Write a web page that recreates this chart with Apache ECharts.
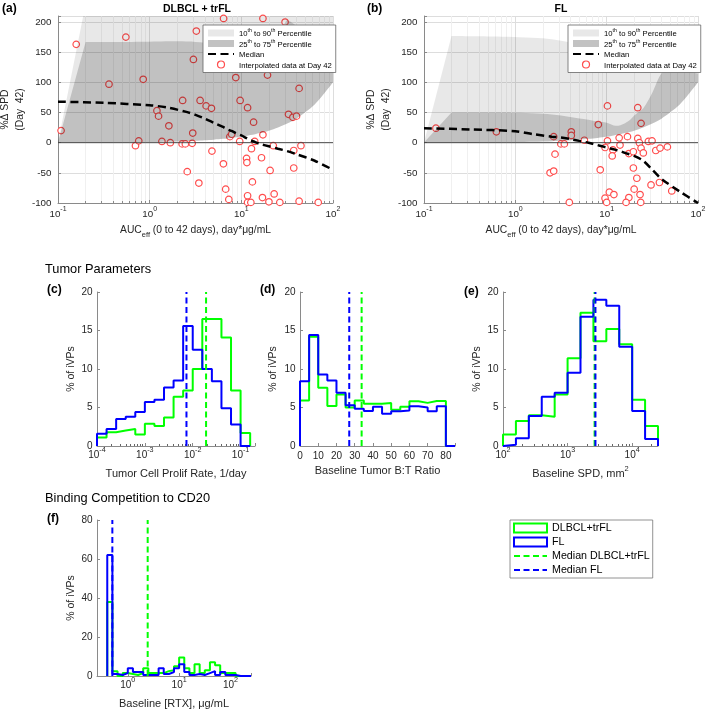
<!DOCTYPE html>
<html><head><meta charset="utf-8">
<script src="https://cdn.jsdelivr.net/npm/echarts@6/dist/echarts.min.js"></script>
<style>html,body{margin:0;padding:0;background:#fff}#c{width:709px;height:712px}</style>
</head><body><div id="c"></div>
<script>
// ---------------- DATA ----------------
const AUC_MIN = 0.1, AUC_MAX = 100;
// AUC sample points for percentile curves
const aucGrid = [0.1, 0.3162, 1, 1.585, 2.512, 3.162, 3.981, 5.012, 6.310, 7.079, 7.943, 8.913, 10, 11.22, 12.59, 14.13, 15.85, 19.95, 25.12, 31.62, 39.81, 63.10, 100];
// DLBCL + trFL percentiles of %ΔSPD
const dlbclP90 = [240,240,240,240,240,240,240,240,240,240,240,240,240,238,234,228,221,207,196,187,178,163,152];
const dlbclP75 = [183,183,181,177,170,165,155,143,130,124,117,109,100,89,77,69,63,54,48,44,40,33,27];
const dlbclP50 = [68,66,62,58,51,46,40,33,26,22,19,15,12,8,4,1,-2,-6,-10,-14,-19,-30,-45];
const dlbclP25 = [16,16,13,10,6,3,-1,-5,-10,-14,-19,-28,-45,-70,-95,-120,-140,-140,-140,-140,-140,-140,-140];
const dlbclP10 = [10,9,6,3,-3,-12,-24,-40,-58,-68,-82,-97,-115,-130,-140,-140,-140,-140,-140,-140,-140,-140,-140];
// FL percentiles
const flP90 = [155,153,148,143,135,129,120,104,78,68,62,56,50,43,35,28,22,13,5,-1,-6,-10,-12];
const flP75 = [58,57,53,48,40,36,31,25,16,12,7,2,-2,-6,-9,-11,-12,-15,-17,-20,-23,-28,-33];
const flP50 = [24,22,19,14,10,8.5,6,3,0,-2,-4,-6,-8,-10,-12,-14,-17,-22,-30,-45,-60,-81,-100];
const flP25 = [8,7,5,3,0,-2,-4,-8,-12,-17,-25,-35,-47,-57,-66,-80,-95,-130,-140,-140,-140,-140,-140];
const flP10 = [-22,-23,-25,-26,-28,-32,-40,-52,-68,-78,-90,-103,-120,-140,-140,-140,-140,-140,-140,-140,-140,-140,-140];
// Interpolated data at day 42
const dlbclAuc = [0.108,0.158,0.55,0.36,0.85,0.70,0.76,1.2,1.25,1.36,1.62,1.68,2.29,2.26,2.45,2.91,2.95,3.0,3.23,3.55,4.13,4.72,4.78,6.4,8.7,7.5,7.85,9.7,9.6,11.7,13.6,14.0,12.9,11.4,17.2,17.2,16.6,19.3,22.3,30,32.7,36.5,40,42.7,44.7,37.3,2.57,3.44,6.37,6.75,7.3,11.5,11.7,11.7,12.7,13.2,17,20.6,20,22.8,26.3,37.3,42.7,69];
const dlbclSpd = [20,163,175,97,105,-5,3,53,44,2,28,0,70,-2,-2,-1,16,138,185,70,61,57,-14,206,108,10,14,70,2,58,34,2,-10,-26,206,13,-25,112,-5,200,47,42,44,90,-5,-13,-48,-67,-35,-77,-94,-33,-88,-99,-99,-65,-91,-46,-98,-85,-99,-42,-97,-99];
const flAuc = [0.135,0.62,2.63,2.72,3.15,3.44,4.1,4.1,5.7,8.1,10.2,10.2,9.6,11.7,11.5,13.7,14.0,16.9,17.5,19.6,21.9,21.9,22.8,23.8,23.8,25.2,28.6,31.4,34.5,38.4,46.2,2.4,2.63,3.9,8.5,9.6,10,10.7,12.0,19.6,21.4,20,17.5,16.3,23.2,23.6,30.6,37.8,51.6];
const flSpd = [24,18,10,-19,-2,-2,18,12,4,30,61,3,-8,-12,-22,8,-4,10,-18,-15,58,7,0,-9,32,-17,2,3,-13,-9,-7,-50,-47,-99,-45,-92,-99,-82,-86,-42,-59,-77,-91,-99,-86,-99,-70,-66,-80];

// Histogram (c): tumor cell proliferation rate, 1/day (bin edges, % of iVPs)
const prolifEdges = [1e-4,1.585e-4,2.512e-4,3.981e-4,6.310e-4,1e-3,1.585e-3,2.512e-3,3.981e-3,6.310e-3,0.01,0.01585,0.02512,0.03981,0.06310,0.1,0.1585];
const prolifDlbcl = [1.1,1.8,2.0,2.2,1.5,2.9,2.6,3.7,6.4,7.2,10.0,16.5,16.5,14.1,7.2,1.7];
const prolifFl    = [1.6,2.2,3.5,3.8,4.4,5.7,6.0,7.6,8.5,15.6,12.5,10.0,8.4,4.9,2.8,0];
const prolifMedDlbcl = 0.019, prolifMedFl = 0.0074;
// Histogram (d): baseline tumor B:T ratio
const btEdges = [0,5,10,15,20,25,30,35,40,45,50,55,60,65,70,75,80,85];
const btDlbcl = [5.9,14.2,7.55,5.2,6.7,5.0,5.9,5.5,5.5,5.6,4.7,5.1,5.8,5.6,5.85,5.85,0];
const btFl    = [8.4,14.4,9.3,8.5,6.9,5.3,4.85,4.55,5.1,4.2,4.5,4.6,5.15,5.0,4.5,5.15,0];
const btMedDlbcl = 33.8, btMedFl = 27.0;
// Histogram (e): baseline SPD, mm^2
const spdEdges = [100,158.5,251.2,398.1,631.0,1000,1585,2512,3981,6310,10000,15849,25119];
const spdDlbcl = [1.5,3.26,4.0,3.8,6.7,11.4,17.3,13.6,15.2,13.2,6.0,2.6];
const spdFl    = [0.15,1.0,3.9,6.4,6.9,9.5,16.8,19.0,18.2,12.9,4.55,0.9];
const spdMedDlbcl = 2620, spdMedFl = 2700;
// Histogram (f): baseline [RTX], ug/mL
const rtxEdges = [0.3981,0.5012,0.6310,0.7943,1,1.259,1.585,1.995,2.512,3.162,3.981,5.012,6.310,7.943,10,12.59,15.85,19.95,25.12,31.62,39.81,50.12,63.10,79.43,100,125.9,158.5,199.5,251.2];
const rtxDlbcl = [38,2.5,0,1.5,1,0.5,1.5,4,1.5,1.5,1.5,2.5,3,5,9.5,4,1.5,6,1.5,3,7,5.5,1.5,1.5,1.5,0,0,0];
const rtxFl    = [62,1,0.5,1.5,4,2,2,0.5,0.5,0.5,4,1,2,4,6,2,0.5,1,0.5,1.5,2.5,0.5,2,0.5,0.5,0,0,0];
const rtxMedDlbcl = 2.44, rtxMedFl = 0.50;

// ---------------- STYLE ----------------
const FONT = '"Liberation Sans", Arial, Helvetica, sans-serif';
const TXT = '#262626', AXC = '#8a8a8a';
const GREEN = '#00ff00', BLUE = '#0000ff', RED = '#ff4d4d';

function logLabel(v){ const e = Math.log10(v); const r = Math.round(e); if (Math.abs(e - r) > 1e-6) return ''; return '{b|10}{s|' + r + '}'; }
// superscript via padding: both tokens same height, base text pushed down, sup pushed up
function mkRich(fs, sfs, padB, padS){ return {
  b:{fontSize:fs, lineHeight:fs, padding:[padB,0,0,0], color:TXT, fontFamily:FONT},
  s:{fontSize:sfs, lineHeight:sfs, padding:[0,0,padS,0], color:TXT, fontFamily:FONT} }; }
const richA = mkRich(9.8, 7, 4, 7);
const richH = mkRich(10, 7.2, 3.5, 6.3);

const grids = [
  {left:58, top:16, width:275, height:187},
  {left:424, top:16, width:274, height:187},
  {left:97, top:292, width:158, height:154},
  {left:300, top:292, width:155, height:154},
  {left:503, top:292, width:155, height:154},
  {left:97, top:520, width:154, height:156}
].map(g => Object.assign({outerBoundsMode:'none', containLabel:false}, g));

function aucAxis(g){
  return {type:'log', logBase:10, gridIndex:g, min:AUC_MIN, max:AUC_MAX,
    axisLine:{show:true, onZero:false, lineStyle:{color:AXC, width:1}},
    axisTick:{show:true, inside:true, length:3, lineStyle:{color:AXC}},
    minorTick:{show:true, splitNumber:9, length:2, lineStyle:{color:AXC}},
    splitLine:{show:true, lineStyle:{color:'#dddddd', width:1}},
    minorSplitLine:{show:true, lineStyle:{color:'#f0f0f0', width:1}},
    axisLabel:{formatter:logLabel, margin:4.5, rich:richA, showMinLabel:true, showMaxLabel:true},
    name:'{m|AUC}{u|eff}{m| (0 to 42 days), day*μg/mL}', nameLocation:'middle', nameGap:23,
    nameTextStyle:{rich:{m:{fontSize:10.3, lineHeight:11, padding:[0,0,3,0], color:TXT, fontFamily:FONT},
                         u:{fontSize:7.5, lineHeight:8, padding:[6,0,0,0], color:TXT, fontFamily:FONT}}}
  };
}
function spdAxis(g, gap){
  return {type:'value', gridIndex:g, min:-100, max:210, interval:50,
    axisLine:{show:true, onZero:false, lineStyle:{color:AXC, width:1}},
    axisTick:{show:true, inside:true, length:3, lineStyle:{color:AXC}},
    splitLine:{show:true, lineStyle:{color:'#dddddd', width:1}},
    axisLabel:{fontSize:9.8, color:TXT, fontFamily:FONT, margin:6.5, formatter: v => v > 200 ? '' : String(v)},
    name:'%Δ SPD\n(Day  42)', nameLocation:'middle', nameRotate:90, nameGap:gap,
    nameTextStyle:{fontSize:10.3, lineHeight:15, color:TXT, fontFamily:FONT}
  };
}
function histX(g, type, min, max, name, gap, extra){
  const ax = {type, gridIndex:g, min, max,
    axisLine:{show:true, onZero:false, lineStyle:{color:AXC, width:1}},
    axisTick:{show:true, inside:true, length:3, lineStyle:{color:AXC}},
    splitLine:{show:false},
    name, nameLocation:'middle', nameGap:gap,
    nameTextStyle:{fontSize:11, lineHeight:13, color:TXT, fontFamily:FONT}
  };
  if (type === 'log') {
    ax.logBase = 10;
    ax.axisLabel = {formatter:logLabel, margin:2.5, rich:richH, showMinLabel:true, showMaxLabel:true};
  } else {
    ax.axisLabel = {fontSize:10, lineHeight:12, color:TXT, fontFamily:FONT, margin:4.5};
  }
  return Object.assign(ax, extra || {});
}
function histY(g, max, interval, gap){
  return {type:'value', gridIndex:g, min:0, max, interval,
    axisLine:{show:true, onZero:false, lineStyle:{color:AXC, width:1}},
    axisTick:{show:true, inside:true, length:3, lineStyle:{color:AXC}},
    splitLine:{show:false},
    axisLabel:{fontSize:10, color:TXT, fontFamily:FONT, margin:4.5},
    name:'% of iVPs', nameLocation:'middle', nameRotate:90, nameGap:gap,
    nameTextStyle:{fontSize:10.5, lineHeight:12, color:TXT, fontFamily:FONT}
  };
}

const xAxes = [
  aucAxis(0), aucAxis(1),
  histX(2, 'log', 1e-4, 0.2, 'Tumor Cell Prolif Rate, 1/day', 21.5, {minorTick:{show:true, splitNumber:9, length:2, lineStyle:{color:'#666'}}}),
  histX(3, 'value', 0, 85, 'Baseline Tumor B:T Ratio', 18, {interval:10, axisLabel:{fontSize:10, lineHeight:12, color:TXT, fontFamily:FONT, margin:4.5, formatter: v => v > 80 ? '' : String(v)}}),
  histX(4, 'log', 100, 25119, '{m|Baseline SPD, mm}{s|2}', 20.5, {minorTick:{show:true, splitNumber:9, length:2, lineStyle:{color:'#666'}},
     nameTextStyle:{rich:{m:{fontSize:11, lineHeight:11, padding:[3,0,0,0], color:TXT, fontFamily:FONT},
                          s:{fontSize:7.5, lineHeight:8, padding:[0,0,6,0], color:TXT, fontFamily:FONT}}}}),
  histX(5, 'log', 0.2512, 251.2, 'Baseline [RTX], μg/mL', 21.5)
];
const yAxes = [ spdAxis(0, 20.5), spdAxis(1, 19.5), histY(2, 20, 5, 19.3), histY(3, 20, 5, 20.7), histY(4, 20, 5, 18.7), histY(5, 80, 20, 19.3) ];

// ---------------- SERIES ----------------
const series = [];
function pairs(xs, ys){ return xs.map((x, i) => [x, ys[i]]); }
function diffs(xs, hi, lo){ return xs.map((x, i) => [x, hi[i] - lo[i]]); }
function addPanel(g, p10, p25, p50, p75, p90, ptsX, ptsY){
  const common = {type:'line', xAxisIndex:g, yAxisIndex:g, symbol:'none', showSymbol:false, smooth:0.3, animation:false};
  series.push(Object.assign({}, common, {name:'_b10_'+g, stack:'L'+g, stackStrategy:'all', data:pairs(aucGrid, p10), lineStyle:{opacity:0, width:0}, silent:true}));
  series.push(Object.assign({}, common, {name:'p1090', stack:'L'+g, stackStrategy:'all', data:diffs(aucGrid, p90, p10), lineStyle:{opacity:0, width:0}, areaStyle:{color:'rgba(0,0,0,0.09)', opacity:1}, silent:true}));
  series.push(Object.assign({}, common, {name:'_b25_'+g, stack:'D'+g, stackStrategy:'all', data:pairs(aucGrid, p25), lineStyle:{opacity:0, width:0}, silent:true}));
  series.push(Object.assign({}, common, {name:'p2575', stack:'D'+g, stackStrategy:'all', data:diffs(aucGrid, p75, p25), lineStyle:{opacity:0, width:0}, areaStyle:{color:'rgba(0,0,0,0.17)', opacity:1}, silent:true}));
  series.push(Object.assign({}, common, {name:'_zero_'+g, smooth:false, data:[[AUC_MIN,0],[AUC_MAX,0]], lineStyle:{color:'#3a3a3a', width:0.9}, silent:true}));
  series.push(Object.assign({}, common, {name:'Median', data:pairs(aucGrid, p50), lineStyle:{color:'#000', width:2.5, type:[8,4.5]}, itemStyle:{color:'#000'}}));
  series.push({type:'scatter', name:'Interpolated data at Day 42', xAxisIndex:g, yAxisIndex:g, data:pairs(ptsX, ptsY), symbol:'circle', symbolSize:6.5, clip:false, animation:false,
    itemStyle:{color:'#ffffff', borderColor:RED, borderWidth:1.2, opacity:1}});
}
addPanel(0, dlbclP10, dlbclP25, dlbclP50, dlbclP75, dlbclP90, dlbclAuc, dlbclSpd);
addPanel(1, flP10, flP25, flP50, flP75, flP90, flAuc, flSpd);

function stairs(edges, vals){
  const pts = [[edges[0], 0]];
  for (let i = 0; i < vals.length; i++) { pts.push([edges[i], vals[i]]); pts.push([edges[i+1], vals[i]]); }
  pts.push([edges[edges.length - 1], 0]);
  return pts;
}
function addHist(g, edges, vDlbcl, vFl, mDlbcl, mFl, ymax){
  const common = {type:'line', xAxisIndex:g, yAxisIndex:g, symbol:'none', showSymbol:false, animation:false, silent:true};
  series.push(Object.assign({}, common, {name:'DLBCL+trFL', data:stairs(edges, vDlbcl), lineStyle:{color:GREEN, width:2}, itemStyle:{color:GREEN}}));
  series.push(Object.assign({}, common, {name:'FL', data:stairs(edges, vFl), lineStyle:{color:BLUE, width:2}, itemStyle:{color:BLUE}}));
  series.push(Object.assign({}, common, {name:'Median DLBCL+trFL', data:[[mDlbcl,0],[mDlbcl,ymax]], lineStyle:{color:GREEN, width:2, type:[6,3.5]}, itemStyle:{color:GREEN}}));
  series.push(Object.assign({}, common, {name:'Median FL', data:[[mFl,0],[mFl,ymax]], lineStyle:{color:BLUE, width:2, type:[6,3.5]}, itemStyle:{color:BLUE}}));
}
addHist(2, prolifEdges, prolifDlbcl, prolifFl, prolifMedDlbcl, prolifMedFl, 20);
addHist(3, btEdges, btDlbcl, btFl, btMedDlbcl, btMedFl, 20);
addHist(4, spdEdges, spdDlbcl, spdFl, spdMedDlbcl, spdMedFl, 20);
addHist(5, rtxEdges, rtxDlbcl, rtxFl, rtxMedDlbcl, rtxMedFl, 80);

// ---------------- LEGENDS ----------------
const NOSYM = {color:'rgba(0,0,0,0)', borderColor:'rgba(0,0,0,0)', borderWidth:0};
const bandNames = {p1090:'{n|10}{s|th}{n| to 90}{s|th}{n| Percentile}', p2575:'{n|25}{s|th}{n| to 75}{s|th}{n| Percentile}'};
function bandLegend(left){
  return {orient:'vertical', left, top:25, itemWidth:26, itemHeight:7, itemGap:0.5, padding:[3,4,3,4],
    borderColor:'#666', borderWidth:0.8, backgroundColor:'#fff', selectedMode:false,
    textStyle:{fontFamily:FONT, color:'#000', fontSize:7.7,
      rich:{n:{fontSize:7.7, lineHeight:8, padding:[2,0,0,0], color:'#000', fontFamily:FONT},
            s:{fontSize:5.2, lineHeight:6, padding:[0,0,4,0], color:'#000', fontFamily:FONT}}},
    formatter: name => bandNames[name] || ('{n|' + name + '}'),
    data:[
      {name:'p1090', icon:'rect', itemStyle:{color:'#e8e8e8', borderWidth:0}},
      {name:'p2575', icon:'rect', itemStyle:{color:'#c2c2c2', borderWidth:0}},
      {name:'Median', itemStyle:NOSYM},
      {name:'Interpolated data at Day 42', icon:'circle', itemStyle:{color:'#fff', borderColor:RED, borderWidth:1.2}}
    ]};
}
const legends = [
  bandLegend(203), bandLegend(568),
  {orient:'vertical', left:510, top:520, itemWidth:33, itemHeight:9, itemGap:2, padding:[2,3,2,3],
   borderColor:'#777', borderWidth:0.8, backgroundColor:'#fff', selectedMode:false,
   textStyle:{fontFamily:FONT, color:'#000', fontSize:10.7, lineHeight:12},
   data:[
     {name:'DLBCL+trFL', icon:'rect', itemStyle:{color:'rgba(0,0,0,0)', borderColor:GREEN, borderWidth:2}},
     {name:'FL', icon:'rect', itemStyle:{color:'rgba(0,0,0,0)', borderColor:BLUE, borderWidth:2}},
     {name:'Median DLBCL+trFL', itemStyle:NOSYM},
     {name:'Median FL', itemStyle:NOSYM}
   ]}
];

// ---------------- TEXTS ----------------
function txt(x, y, text, size, bold, align){
  const font = (bold ? 'bold ' : '') + size + 'px ' + FONT;
  return {type:'text', x, y, silent:true, style:{text, font, fill:'#000', align:align||'left', textAlign:align||'left', verticalAlign:'middle', textVerticalAlign:'middle'}};
}
const texts = [
  txt(2, 9, '(a)', 12, true), txt(197, 9, 'DLBCL + trFL', 10.5, true, 'center'),
  txt(367, 9, '(b)', 12, true), txt(561, 9, 'FL', 10.5, true, 'center'),
  txt(45, 269, 'Tumor Parameters', 12.8, false),
  txt(47, 290, '(c)', 12, true), txt(260, 290, '(d)', 12, true), txt(464, 292, '(e)', 12, true),
  txt(45, 498, 'Binding Competition to CD20', 12.8, false),
  txt(47, 519, '(f)', 12, true)
];

const chart = echarts.init(document.getElementById('c'), null, {renderer:'canvas'});
chart.setOption({
  animation:false, backgroundColor:'#fff',
  textStyle:{fontFamily:FONT},
  grid:grids, xAxis:xAxes, yAxis:yAxes, series, legend:legends,
  graphic:{elements:texts}
});
</script></body></html>
